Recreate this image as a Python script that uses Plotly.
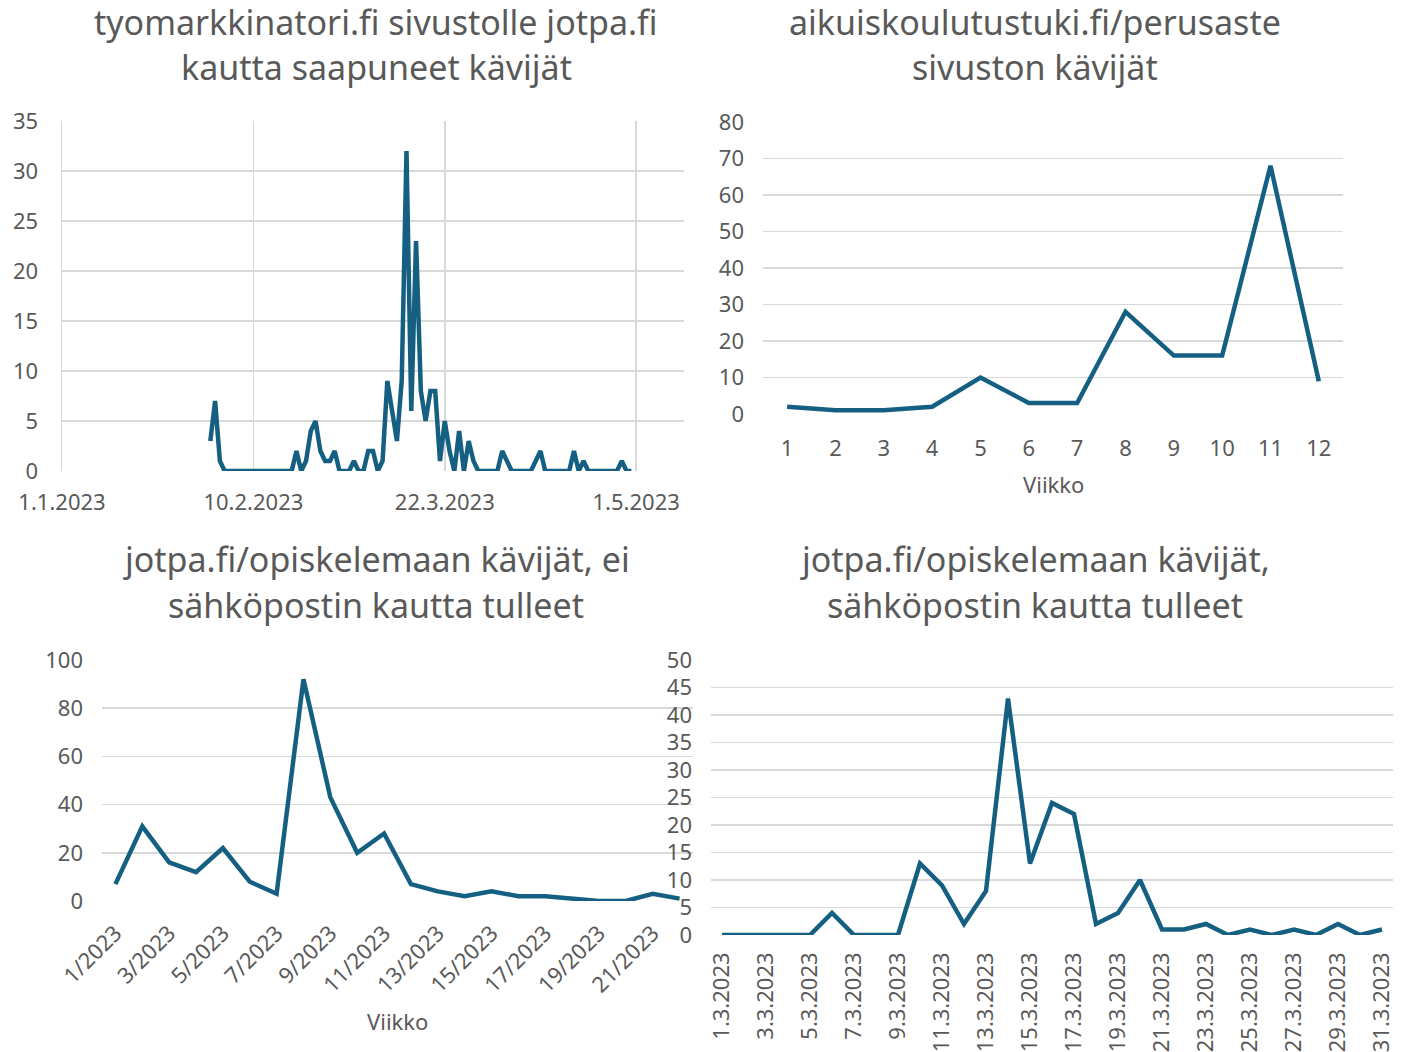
import plotly.graph_objects as go
import pandas as pd

W, H = 1407, 1052
FONT = "Noto Sans"
TXT = "#595959"
GRID = "#d9d9d9"
LINE = "#156082"

# ---- chart 1: tyomarkkinatori.fi (daily, 1.2.2023 - 30.4.2023)
c1_start = "2023-02-01"
c1_values = [3, 7, 1,
             0, 0, 0, 0, 0, 0, 0, 0, 0, 0, 0, 0, 0, 0, 0,
             2, 0, 1, 4, 5, 2, 1, 1, 2, 0, 0, 0, 1, 0, 0, 2, 2, 0, 1, 9, 6, 3,
             9, 32, 6, 23, 8, 5, 8, 8, 1, 5, 2, 0, 4, 0, 3, 1,
             0, 0, 0, 0, 0,
             2, 1,
             0, 0, 0, 0, 0,
             1, 2,
             0, 0, 0, 0, 0, 0,
             2, 0, 1,
             0, 0, 0, 0, 0, 0, 0,
             1, 0, 0]
c1_dates = pd.date_range(c1_start, periods=len(c1_values), freq="D")
c1_tickvals = ["2023-01-01", "2023-02-10", "2023-03-22", "2023-05-01"]
c1_ticktext = ["1.1.2023", "10.2.2023", "22.3.2023", "1.5.2023"]

# ---- chart 2: aikuiskoulutustuki.fi/perusaste (weekly)
c2_weeks = ["1", "2", "3", "4", "5", "6", "7", "8", "9", "10", "11", "12"]
c2_values = [2, 1, 1, 2, 10, 3, 3, 28, 16, 16, 68, 9]

# ---- chart 3: jotpa.fi/opiskelemaan, ei sähköposti (weekly)
c3_weeks = [f"{i}/2023" for i in range(1, 23)]
c3_values = [7, 31, 16, 12, 22, 8, 3, 92, 43, 20, 28, 7, 4, 2, 4, 2, 2, 1, 0, 0, 3, 1]

# ---- chart 4: jotpa.fi/opiskelemaan, sähköposti (daily March)
c4_days = [f"{d}.3.2023" for d in range(1, 32)]
c4_values = [0, 0, 0, 0, 0, 4, 0, 0, 0, 13, 9, 2, 8, 43, 13, 24, 22, 2, 4, 10,
             1, 1, 2, 0, 1, 0, 1, 0, 2, 0, 1]


def dx(a, b):
    return [a / W, b / W]


def dy(top, bottom):
    return [1 - bottom / H, 1 - top / H]


tick_font = dict(family=FONT, size=22, color=TXT)
line_style = dict(color=LINE, width=4.5)

fig = go.Figure()
fig.add_trace(go.Scatter(x=c1_dates, y=c1_values, mode="lines", line=line_style,
                         xaxis="x", yaxis="y", showlegend=False))
fig.add_trace(go.Scatter(x=c2_weeks, y=c2_values, mode="lines", line=line_style,
                         xaxis="x2", yaxis="y2", showlegend=False))
fig.add_trace(go.Scatter(x=c3_weeks, y=c3_values, mode="lines", line=line_style,
                         xaxis="x3", yaxis="y3", showlegend=False))
fig.add_trace(go.Scatter(x=c4_days, y=c4_values, mode="lines", line=line_style,
                         xaxis="x4", yaxis="y4", showlegend=False))

ycommon = dict(showgrid=True, gridcolor=GRID, gridwidth=1.5, zeroline=False,
               ticks="", tickfont=tick_font, ticklabelstandoff=18,
               fixedrange=True, automargin=False)
xcommon = dict(zeroline=False, showline=False, ticks="", tickfont=tick_font,
               fixedrange=True, automargin=False)

fig.update_layout(
    template="none",
    width=W, height=H,
    margin=dict(l=0, r=0, t=0, b=0, pad=0),
    paper_bgcolor="white", plot_bgcolor="white",
    font=dict(family=FONT, color=TXT),
    xaxis=dict(domain=dx(62, 684), anchor="y", type="date",
               range=["2023-01-01", "2023-05-11"],
               tickvals=c1_tickvals, ticktext=c1_ticktext,
               showgrid=True, gridcolor=GRID, gridwidth=1.5,
               ticklabelstandoff=16, **xcommon),
    yaxis=dict(domain=dy(121, 471), anchor="x", range=[0, 35], dtick=5,
               showline=True, linecolor=GRID, linewidth=1.5, **ycommon),
    xaxis2=dict(domain=dx(763, 1343), anchor="y2", type="category",
                range=[-0.5, 11.5], showgrid=False, ticklabelstandoff=19, **xcommon),
    yaxis2=dict(domain=dy(122, 414), anchor="x2", range=[0, 80], dtick=10,
                showline=False, **ycommon),
    xaxis3=dict(domain=dx(102, 693), anchor="y3", type="category",
                range=[-0.5, 21.5], showgrid=False, tickangle=-45,
                tickvals=c3_weeks[::2], ticklabelstandoff=14, **xcommon),
    yaxis3=dict(domain=dy(660, 901), anchor="x3", range=[0, 100], dtick=20,
                showline=False, **ycommon),
    xaxis4=dict(domain=dx(711, 1393), anchor="y4", type="category",
                range=[-0.5, 30.5], showgrid=False, tickangle=-90,
                tickvals=c4_days[::2], ticklabelstandoff=12, **xcommon),
    yaxis4=dict(domain=dy(660, 935), anchor="x4", range=[0, 50], dtick=5,
                showline=False, **ycommon),
)

titles = [
    (376, 22, "tyomarkkinatori.fi sivustolle jotpa.fi"),
    (376, 67, "kautta saapuneet kävijät"),
    (1035, 22, "aikuiskoulutustuki.fi/perusaste"),
    (1035, 67, "sivuston kävijät"),
    (376, 559, "jotpa.fi/opiskelemaan kävijät, ei"),
    (376, 605, "sähköpostin kautta tulleet"),
    (1035, 559, "jotpa.fi/opiskelemaan kävijät,"),
    (1035, 605, "sähköpostin kautta tulleet"),
]
for x, y, t in titles:
    fig.add_annotation(x=x / W, y=1 - y / H, xref="paper", yref="paper",
                       text=t, showarrow=False, xanchor="center", yanchor="middle",
                       font=dict(family=FONT, size=34, color=TXT))

for x, y in [(1053, 484), (397, 1021)]:
    fig.add_annotation(x=x / W, y=1 - y / H, xref="paper", yref="paper",
                       text="Viikko", showarrow=False, xanchor="center", yanchor="middle",
                       font=dict(family=FONT, size=22, color=TXT))

fig.write_html("out.html",
               config={"displayModeBar": False, "staticPlot": True},
               post_script="document.body.style.margin='0';document.body.style.overflow='hidden';")
